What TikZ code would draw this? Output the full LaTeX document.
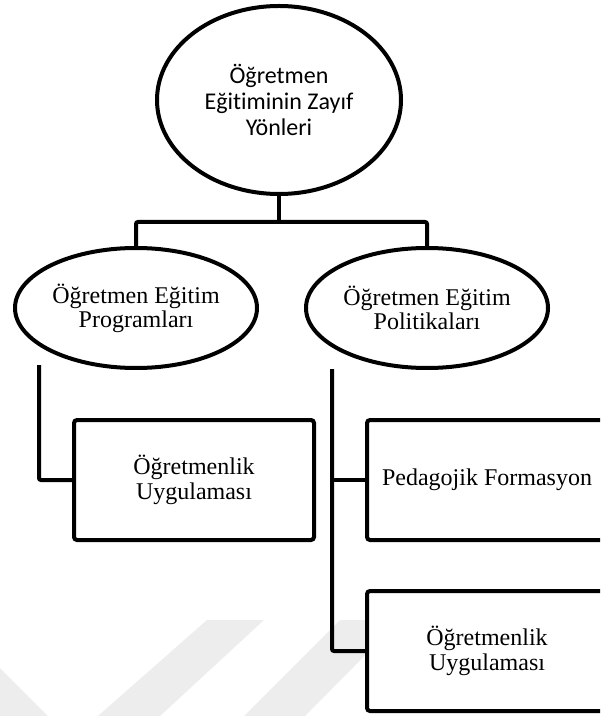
\documentclass[tikz,border=0pt]{standalone}
\usepackage{fontspec}
\setmainfont{Liberation Serif}
\newfontfamily\calibri[Ligatures=NoCommon]{Carlito}
\usetikzlibrary{shapes.geometric}
\definecolor{wmark}{HTML}{EDEDED}
\begin{document}
\begin{tikzpicture}[x=0.5pt,y=-0.5pt,
  line width=2pt,
  oval/.style={ellipse,draw,fill=white,inner sep=0pt,minimum width=121pt,minimum height=60pt,align=center,font=\fontsize{12}{12}\selectfont},
  topoval/.style={ellipse,draw,fill=white,inner sep=0pt,minimum width=122pt,minimum height=94pt,align=center,font=\calibri\fontsize{12}{13}\selectfont},
  cardbox/.style={rectangle,draw,fill=white,rounded corners=1.5pt,inner sep=0pt,minimum width=120pt,minimum height=60pt,align=center,font=\fontsize{12}{12.5}\selectfont},
  link/.style={draw,line width=2pt,rounded corners=1pt},
  wm/.style={fill=wmark,draw=none}]
\useasboundingbox (0,0) rectangle (600,716);
\clip (0,0) rectangle (600,716);
\fill[white] (0,0) rectangle (600,716);
% faint watermark
\path[wm] (207,620) -- (264,620) -- (160,716) -- (98,716) -- cycle;
\path[wm] (340,620) -- (400,620) -- (305,716) -- (244,716) -- cycle;
\path[wm] (0,668) -- (48,716) -- (0,716) -- cycle;
% nodes
\node[topoval] (top) at (279,100) {Öğretmen\\Eğitiminin Zayıf\\Yönleri};
\node[oval] (left) at (136,308) {Öğretmen Eğitim\\Programları};
\node[oval] (right) at (427,308) {Öğretmen Eğitim\\Politikaları};
\node[cardbox] (lbox) at (194,480) {Öğretmenlik\\Uygulaması};
\node[cardbox] (rbox1) at (487,480) {Pedagojik Formasyon};
\node[cardbox] (rbox2) at (487,651) {Öğretmenlik\\Uygulaması};
% connectors
\coordinate (bar) at (279,222);
\coordinate (lstart) at (39,365);
\coordinate (rstart) at (332,369);
\draw[link] (top.south) -- (bar);
\draw[link] (left.north) |- (bar) -| (right.north);
\draw[link] (lstart) |- (lbox.west);
\draw[link] (rstart) |- (rbox2.west);
\draw[link] (rbox1.west) -- (rbox1.west -| rstart);
\end{tikzpicture}
\end{document}
